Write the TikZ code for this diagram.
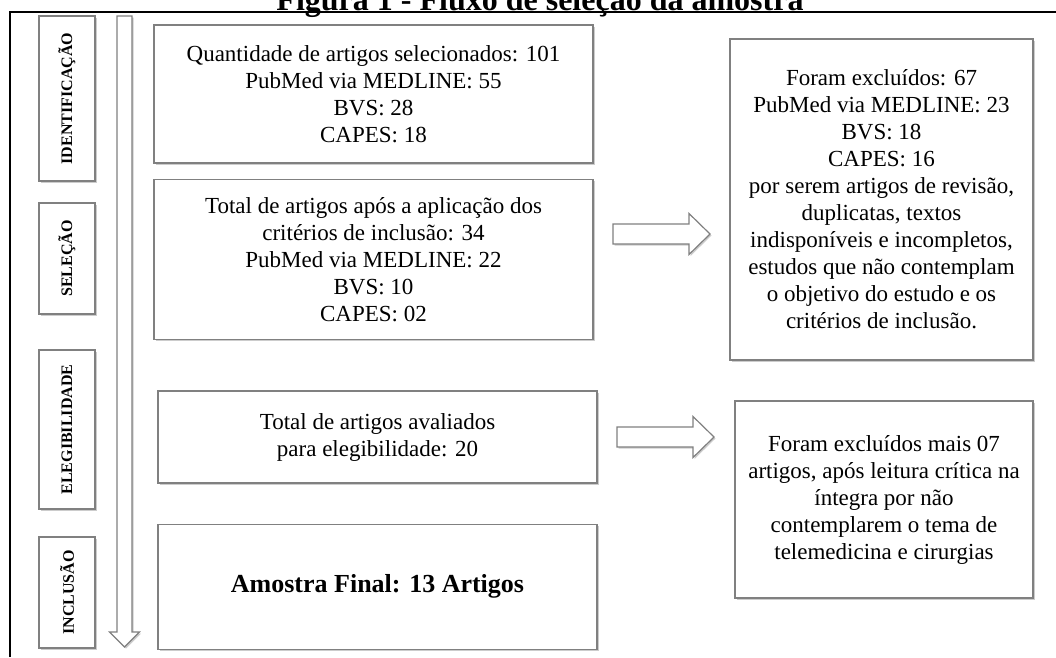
\documentclass[tikz,border=0pt]{standalone}
\usepackage{fontspec}
\setmainfont{Liberation Serif}
\usetikzlibrary{
  positioning,
  shadows
}
\tikzset{%
  sombra/.style={drop shadow={shadow xshift=1.5pt, shadow yshift=-1.5pt, opacity=.4}},
  caixa/.style={draw=black!50, line width=1.2pt, fill=white, sombra, align=center,
    inner sep=0pt, font=\fontsize{23}{27}\selectfont},
  etapa/.style={caixa, minimum width=56pt, font=\fontsize{16}{18}\bfseries\selectfont},
  seta/.style={draw=black!50, line width=1.2pt, fill=white, sombra, line join=miter}
}

\begin{document}
\begin{tikzpicture}[x=1pt, y=-1pt]
  \useasboundingbox (0,0) rectangle (1056,657);
  % moldura e titulo
  \draw[line width=2pt] (10,657) -- (10,12) -- (1056,12);
  \node[anchor=base, font=\fontsize{32}{36}\bfseries\selectfont] (titulo) at (540,10)
    {Figura 1 - Fluxo de seleção da amostra};

  % etapas
  \node[etapa, minimum height=165pt] (identificacao) at (67,98.5) {\rotatebox{90}{IDENTIFICAÇÃO}};
  \node[etapa, minimum height=111pt] (selecao) at (67,258.5) {\rotatebox{90}{SELEÇÃO}};
  \node[etapa, minimum height=159pt] (elegibilidade) at (67,429.5) {\rotatebox{90}{ELEGIBILIDADE}};
  \node[etapa, minimum height=111pt] (inclusao) at (67,592.5) {\rotatebox{90}{INCLUSÃO}};
  \draw[seta] (117,16) -- (117,632) -- (109.5,632) -- (124.5,647) -- (139.5,632)
    -- (132,632) -- (132,16) -- cycle;

  % caixas centrais
  \node[caixa, minimum width=439pt, minimum height=138pt] (quant) at (373.5,94)
    {Quantidade de artigos selecionados: 101\\ PubMed via MEDLINE: 55\\ BVS: 28\\ CAPES: 18};
  \node[caixa, minimum width=439pt, minimum height=160pt, below=15pt of quant] (total)
    {Total de artigos após a aplicação dos\\ critérios de inclusão: 34\\ PubMed via MEDLINE: 22\\ BVS: 10\\ CAPES: 02};
  \node[caixa, minimum width=439pt, minimum height=92pt] (avaliados) at (377.5,437)
    {Total de artigos avaliados\\ para elegibilidade: 20};
  \node[caixa, minimum width=439pt, minimum height=125pt, below=40pt of avaliados,
    font=\fontsize{26}{30}\bfseries\selectfont] (final) {Amostra Final: 13 Artigos};

  % exclusoes
  \node[caixa, minimum width=303pt, minimum height=321pt] (excl) at (881.5,199.5)
    {Foram excluídos: 67\\ PubMed via MEDLINE: 23\\ BVS: 18\\ CAPES: 16\\ por serem artigos de revisão,\\
     duplicatas, textos\\ indisponíveis e incompletos,\\ estudos que não contemplam\\
     o objetivo do estudo e os\\ critérios de inclusão.};
  \node[caixa, minimum width=298pt, minimum height=197pt] (exclmais) at (884,499.5)
    {Foram excluídos mais 07\\ artigos, após leitura crítica na\\ íntegra por não\\
     contemplarem o tema de\\ telemedicina e cirurgias};

  % setas de exclusao
  \foreach \x/\y in {613/234, 617/437}{%
    \draw[seta] (\x,\y-10) -- ++(76,0) -- ++(0,-10.5) -- ++(21,20.5) -- ++(-21,20.5)
      -- ++(0,-10.5) -- ++(-76,0) -- cycle;
  }
\end{tikzpicture}
\end{document}
